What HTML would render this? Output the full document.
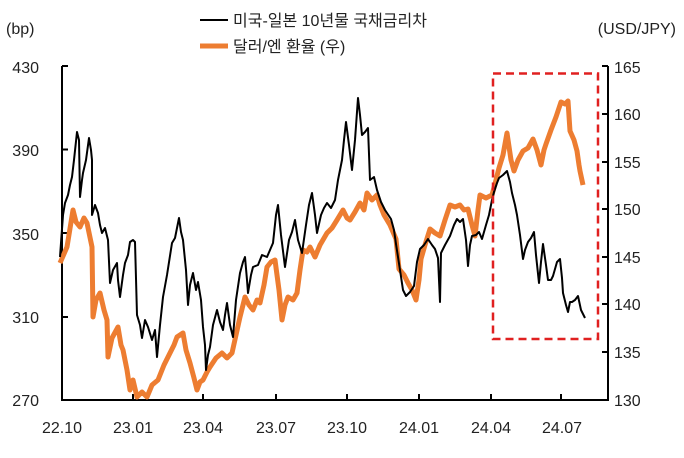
<!DOCTYPE html>
<html><head><meta charset="utf-8"><style>
body{margin:0;background:#fff}
svg text{font-family:"Liberation Sans","Noto Sans CJK KR",sans-serif;fill:#222}
</style></head><body>
<svg width="684" height="453" viewBox="0 0 684 453" xmlns="http://www.w3.org/2000/svg">
<rect width="684" height="453" fill="#fff"/>
<!-- legend -->
<line x1="200" y1="20" x2="228" y2="20" stroke="#000" stroke-width="2"/>
<text x="233" y="26" font-size="16">미국-일본 10년물 국채금리차</text>
<line x1="200" y1="46" x2="228" y2="46" stroke="#ED7D31" stroke-width="5"/>
<text x="233" y="52" font-size="16">달러/엔 환율 (우)</text>
<text x="6" y="34" font-size="16">(bp)</text>
<text x="676" y="34" font-size="16" text-anchor="end">(USD/JPY)</text>
<!-- left labels -->
<g font-size="16" text-anchor="end">
<text x="39" y="73">430</text><text x="39" y="156">390</text><text x="39" y="240">350</text><text x="39" y="323">310</text><text x="39" y="406">270</text>
</g>
<g font-size="16">
<text x="614" y="73">165</text><text x="614" y="120">160</text><text x="614" y="168">155</text><text x="614" y="215">150</text><text x="614" y="263">145</text><text x="614" y="310">140</text><text x="614" y="358">135</text><text x="614" y="406">130</text>
</g>
<g font-size="16" text-anchor="middle">
<text x="62" y="433">22.10</text><text x="133" y="433">23.01</text><text x="203" y="433">23.04</text><text x="276" y="433">23.07</text><text x="347" y="433">23.10</text><text x="419" y="433">24.01</text><text x="491" y="433">24.04</text><text x="562" y="433">24.07</text>
</g>
<!-- axes -->
<g stroke="#000" stroke-width="2" fill="none">
<path d="M62 66V400H608V66"/>
<path d="M62 66h6M62 149.5h6M62 233h6M62 317h6"/>
<path d="M608 66h-6M608 114h-6M608 162h-6M608 209h-6M608 257h-6M608 304h-6M608 352h-6"/>
<path d="M133 400v-6M203 400v-6M276 400v-6M347 400v-6M419 400v-6M491 400v-6M561 400v-6"/>
</g>
<!-- orange -->
<polyline fill="none" stroke="#ED7D31" stroke-width="5" stroke-linejoin="round" points="60,263 67,247 73,210 76,222 80,227 84,218 87,223 92,247 93,317 96,300 100,293 104,310 107,320 108,357 112,338 118,327 121,345 123,350 127,370 130,390 133,380 137,397 142,392 147,397 152,385 158,380 164,365 170,353 174,345 177,337 183,333 186,350 190,363 194,378 197,390 200,382 203,380 207,372 210,367 216,358 222,353 227,358 232,353 236,335 240,317 245,297 249,305 253,310 257,300 260,303 264,285 267,267 271,262 275,260 279,290 282,320 285,305 288,297 293,300 297,293 300,270 303,250 307,252 310,247 315,257 320,245 327,233 332,228 337,220 343,210 347,218 350,220 355,212 360,203 364,210 367,193 372,200 377,195 380,205 384,215 390,225 396,239 399,269 404,275 408,283 412,290 416,300 419,280 421,259 425,245 430,229 435,233 440,236 445,220 450,205 455,207 460,205 464,210 468,209 472,225 475,236 478,210 480,195 486,198 492,195 496,180 499,168 503,155 507,133 511,160 514,171 518,160 523,151 528,148 533,139 537,150 541,165 544,150 546,144 551,130 556,117 559,108 561,102 565,104 568,101 570,131 574,140 577,151 579,165 580,171 583,185"/>
<!-- black -->
<polyline fill="none" stroke="#000" stroke-width="2" stroke-linejoin="round" points="60,257 63,215 65,203 68,195 70,185 72,177 74,160 77,132 79,140 80,197 82,180 83,173 86,160 89,138 91,150 92,160 92,215 95,205 98,213 100,225 102,233 105,228 108,240 110,283 113,270 117,263 118,280 120,297 123,275 125,263 128,255 130,242 133,240 135,242 137,315 140,325 142,338 145,320 148,327 152,340 155,330 157,357 160,325 163,297 167,275 172,243 175,238 179,218 181,232 183,240 186,270 188,305 190,285 193,273 196,290 198,282 201,300 203,327 205,345 206,370 208,355 210,347 213,325 217,310 220,322 223,330 225,315 227,303 230,325 233,337 236,300 240,273 243,262 245,257 247,280 248,293 251,275 253,267 258,265 262,255 267,257 270,250 273,243 276,215 278,205 281,235 285,267 289,240 292,232 295,220 298,240 302,253 306,225 309,205 312,193 315,215 317,233 321,215 324,208 327,203 331,208 335,200 338,180 342,160 344,140 346,122 349,145 352,170 355,140 358,98 360,115 362,135 365,132 368,128 370,180 374,177 377,190 381,202 385,210 391,219 394,230 396,244 400,270 403,290 406,296 410,292 414,286 417,262 420,249 424,245 428,239 432,245 435,249 438,258 440,302 441,253 445,245 450,236 454,225 457,219 460,222 463,219 466,240 468,266 470,245 472,236 476,235 479,232 482,239 486,225 489,215 492,200 494,192 497,183 499,178 503,175 507,171 510,182 512,193 515,205 517,215 520,235 523,259 525,250 528,242 531,238 534,232 536,255 539,283 541,262 543,244 546,265 548,280 551,280 553,276 557,262 560,259 562,278 563,293 566,305 568,312 570,302 572,302 575,300 578,296 581,310 585,318"/>
<!-- red dashed box -->
<rect x="493" y="73.5" width="105" height="265.5" fill="none" stroke="#E02020" stroke-width="2.5" stroke-dasharray="8,5"/>
</svg>
</body></html>
